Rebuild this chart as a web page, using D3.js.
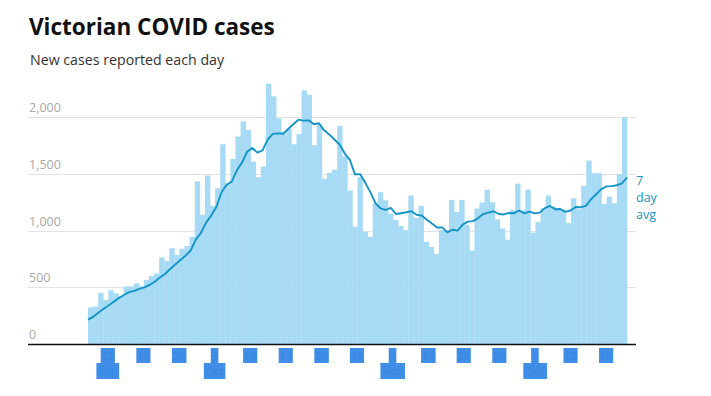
<!DOCTYPE html>
<html>
<head>
<meta charset="utf-8">
<script src="https://cdn.jsdelivr.net/npm/d3@7"></script>
<style>
  html, body { margin: 0; padding: 0; background: #fff; }
  svg { display: block; }
</style>
</head>
<body>
<svg id="chart" width="711" height="396"></svg>
<script>
// ---- Data (Victoria, new cases per day, 9 Sep – 23 Dec 2021) ----
const startDate = "2021-09-09";
const dailyCases = [
  323, 330, 452, 388, 473, 447, 423, 508, 508, 535,
  508, 564, 600, 623, 764, 732, 845, 785, 840, 865,
  945, 1435, 1140, 1486, 1219, 1375, 1762, 1419, 1633, 1830,
  1962, 1889, 1609, 1471, 1565, 2297, 2185, 1990, 1870, 1900,
  1762, 1851, 2238, 2199, 1753, 1935, 1458, 1509, 1539, 1925,
  1656, 1354, 1035, 1472, 990, 945, 1241, 1339, 1268, 1150,
  1095, 1040, 1003, 1310, 1113, 1219, 902, 857, 795, 1005,
  1005, 1271, 1164, 1271, 1050, 824, 1195, 1249, 1360, 1250,
  1100, 1020, 920, 1180, 1415, 1180, 1363, 983, 1075, 1198,
  1310, 1213, 1198, 1184, 1066, 1286, 1189, 1395, 1618, 1507,
  1507, 1236, 1301, 1242, 1498, 2000
];
const sevenDayAvg = [
  215, 240, 275, 308, 340, 372, 405, 432, 457, 469,
  486, 499, 521, 549, 586, 618, 662, 702, 741, 779,
  825, 921, 979, 1071, 1133, 1209, 1337, 1405, 1433, 1532,
  1600, 1696, 1729, 1688, 1708, 1803, 1854, 1858, 1855, 1897,
  1938, 1979, 1971, 1973, 1939, 1948, 1885, 1849, 1804, 1760,
  1682, 1625, 1497, 1499, 1424, 1340, 1242, 1197, 1184, 1201,
  1147, 1154, 1162, 1172, 1140, 1133, 1097, 1063, 1028, 1029,
  985, 1008, 1000, 1053, 1080, 1084, 1111, 1146, 1159, 1171,
  1147, 1143, 1156, 1154, 1178, 1152, 1168, 1152, 1159, 1199,
  1218, 1189, 1191, 1166, 1178, 1208, 1207, 1219, 1277, 1321,
  1367, 1391, 1393, 1401, 1416, 1470
];
const yTicks = [0, 500, 1000, 1500, 2000];
const titleText = "Victorian COVID cases";
const subtitleText = "New cases reported each day";
const avgLabel = ["7", "day", "avg"];

// ---- Setup ----
const svg = d3.select("#chart");
const parse = d3.timeParse("%Y-%m-%d");
const day0 = parse(startDate);
const dates = dailyCases.map((_, i) => d3.timeDay.offset(day0, i));

const mLeft = 88, mRight = 627, mTop = 117.3, mBottom = 344;
const x = d3.scaleBand().domain(d3.range(dailyCases.length)).range([mLeft, mRight]).paddingInner(0).paddingOuter(0);
const xp = d3.scalePoint().domain(d3.range(dailyCases.length)).range([mLeft, mRight]);
const y = d3.scaleLinear().domain([0, 2000]).range([mBottom, mTop]);

const fontFam = "'Segoe UI', 'Open Sans', 'Noto Sans', sans-serif";

// Title & subtitle
svg.append("text").attr("x", 29).attr("y", 35)
  .attr("font-family", fontFam).attr("font-weight", 700).attr("font-size", 22.5)
  .attr("fill", "#111").text(titleText);
svg.append("text").attr("x", 30).attr("y", 65)
  .attr("font-family", fontFam).attr("font-size", 14.2)
  .attr("fill", "#333").text(subtitleText);

// Gridlines
svg.append("g").selectAll("line").data(yTicks.filter(d => d > 0)).join("line")
  .attr("x1", 28).attr("x2", 636)
  .attr("y1", d => Math.round(y(d)) + 0.5).attr("y2", d => Math.round(y(d)) + 0.5)
  .attr("stroke", "#e2e2e2").attr("stroke-width", 1);

// Y tick labels
svg.append("g").selectAll("text").data(yTicks).join("text")
  .attr("x", 29).attr("y", d => y(d) - 5)
  .attr("font-family", fontFam).attr("font-size", 12.5)
  .attr("fill", "#a8a8a8")
  .text(d => d3.format(",")(d));

// Bars
svg.append("g").selectAll("rect").data(dailyCases).join("rect")
  .attr("x", (d, i) => x(i))
  .attr("width", x.bandwidth() + 0.3)
  .attr("y", d => y(d))
  .attr("height", d => y(0) - y(d))
  .attr("fill", "#a6daf5");

// 7-day average line
const line = d3.line().x((d, i) => xp(i)).y(d => y(d));
svg.append("path").datum(sevenDayAvg)
  .attr("d", line).attr("fill", "none")
  .attr("stroke", "#1594c6").attr("stroke-width", 1.9)
  .attr("stroke-linejoin", "round");

// 7 day avg label
svg.append("g").selectAll("text").data(avgLabel).join("text")
  .attr("x", 636).attr("y", (d, i) => 185 + i * 17)
  .attr("font-family", fontFam).attr("font-size", 12.5)
  .attr("fill", "#1594c6").text(d => d);

// X axis baseline
svg.append("line").attr("x1", 28).attr("x2", 636)
  .attr("y1", mBottom + 0.5).attr("y2", mBottom + 0.5)
  .attr("stroke", "#111").attr("stroke-width", 1.3);

// X tick labels (Sundays), shown as blue-highlighted text blocks
const tickIdx = d3.range(dailyCases.length).filter(i => dates[i].getDay() === 0);
const fmtDay = d3.timeFormat("%-d"), fmtMon = d3.timeFormat("%b");
const gx = svg.append("g");
let prevMonth = -1;
tickIdx.forEach(i => {
  const cx = x(i) + x.bandwidth() / 2 + 2;
  const g = gx.append("g");
  const t = g.append("text").attr("x", cx).attr("y", 360)
    .attr("text-anchor", "middle").attr("font-family", fontFam).attr("font-size", 11.5)
    .attr("fill", "#3786e2").text(fmtDay(dates[i]));
  const bb = t.node().getBBox();
  g.insert("rect", "text").attr("x", bb.x - 0.5).attr("y", 348).attr("width", bb.width + 1).attr("height", 15)
    .attr("fill", "#408ee8");
  if (dates[i].getMonth() !== prevMonth) {
    prevMonth = dates[i].getMonth();
    const t2 = g.append("text").attr("x", cx).attr("y", 375)
      .attr("text-anchor", "middle").attr("font-family", fontFam).attr("font-size", 11.5)
      .attr("fill", "#3786e2").text(fmtMon(dates[i]));
    const b2 = t2.node().getBBox();
    g.insert("rect", "text").attr("x", b2.x - 1.5).attr("y", 363).attr("width", b2.width + 3).attr("height", 16)
      .attr("fill", "#408ee8");
  }
});
</script>
</body>
</html>
